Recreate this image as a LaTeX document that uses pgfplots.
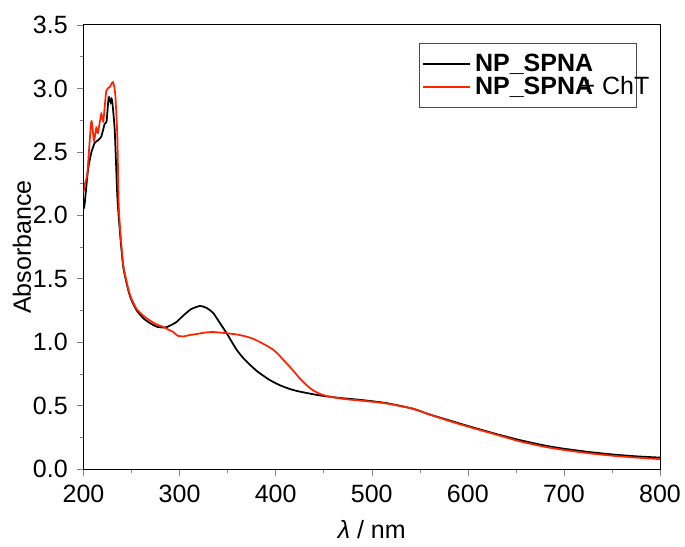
\documentclass[border=0pt]{standalone}
\usepackage{fontspec}
\setmainfont{Liberation Sans}
\usepackage{pgfplots}
\pgfplotsset{compat=1.18}
\definecolor{spred}{RGB}{255,35,0}
\begin{document}
\begin{tikzpicture}
\begin{axis}[
  scale only axis,
  width=230.6pt, height=177.6pt,
  xmin=200, xmax=800, ymin=0, ymax=3.5,
  xtick={200,300,...,800},
  ytick={0,0.5,...,3.5},
  minor x tick num=1, minor y tick num=1,
  tick align=outside,
  xtick pos=left, ytick pos=left,
  major tick length=2.8pt, minor tick length=1.6pt,
  /pgf/number format/assume math mode=true,
  /pgf/number format/.cd, fixed, fixed zerofill, precision=1, /pgfplots/.cd,
  xticklabel style={/pgf/number format/precision=0,/pgf/number format/fixed zerofill=false},
  x label style={at={(axis description cs:0.5,-0.137)},anchor=center},
  y label style={at={(axis description cs:-0.107,0.5)},anchor=center},
  xlabel={\textit{λ} / nm},
  ylabel={Absorbance},
  legend style={at={(axis description cs:0.582,0.959)}, anchor=north west,
    draw=black!70, inner xsep=1pt, inner ysep=2.5pt, row sep=-2.6pt, font=\fontsize{10}{11}\selectfont,
    nodes={inner sep=1.5pt}},
  legend cell align=left,
  legend image code/.code={\draw[#1] (0pt,0pt) -- (19pt,0pt);},
]
\addplot[black, line width=0.7pt, smooth, tension=0.35] coordinates {
(200,2.05) (201.2,2.09) (204.7,2.36) (208,2.49) (211.6,2.57) (215,2.59)
(218.5,2.62) (222,2.72) (224,2.74) (226.2,2.93) (228.3,2.89) (229.7,2.91)
(232.5,2.67) (235.2,2.15) (238,1.86) (241.4,1.59) (246.6,1.41) (250,1.33)
(255.4,1.25) (262,1.19) (269.2,1.15) (277,1.12) (284.8,1.115) (290,1.13)
(297,1.16) (303.9,1.21) (312,1.26) (321,1.285) (328,1.27) (335,1.23)
(342,1.15) (349,1.07) (359.4,0.94) (368,0.86) (380,0.775) (393,0.705)
(404.5,0.66) (415,0.63) (425,0.61) (446,0.58) (467,0.56) (488,0.545) (515,0.52)
(543,0.475) (560,0.43) (580,0.385) (602,0.335) (630,0.275) (654,0.228)
(680,0.185) (700,0.16) (725,0.135) (750,0.115) (775,0.10) (800,0.09)
};
\addlegendentry{\textbf{NP\_SPNA}}
\addplot[spred, line width=0.7pt, smooth, tension=0.35] coordinates {
(200,2.18) (201.2,2.24) (204,2.33) (208.1,2.74) (210.9,2.59) (213.3,2.69)
(215,2.65) (218.5,2.80) (220.6,2.74) (223.7,2.98) (227.3,3.01) (230.7,3.05)
(233,2.96) (235.2,2.62) (236.6,2.09) (238.5,1.85) (241.5,1.60) (246.6,1.42)
(250,1.34) (255.4,1.26) (262,1.21) (269.2,1.17) (276,1.14) (283,1.12)
(288,1.10) (293.4,1.08) (298,1.05) (303.9,1.045) (310,1.055) (317.8,1.064)
(326,1.075) (335,1.08) (349,1.07) (360,1.06) (369.8,1.043) (377,1.025)
(383.7,1.00) (390,0.975) (397.5,0.94) (402,0.91) (408,0.86) (413,0.82) (418.3,0.775)
(425,0.715) (432.3,0.66) (439,0.62) (446,0.593) (453,0.575) (460,0.565)
(473,0.55) (487.7,0.54) (515,0.517) (543,0.475) (560,0.43) (580,0.38)
(602,0.33) (630,0.27) (654,0.218) (680,0.175) (700,0.15) (725,0.125)
(750,0.105) (775,0.09) (800,0.078)
};
\addlegendentry{\textbf{NP\_SPNA}\hspace{-5pt}\makebox[20pt][l]{+ ChT}}
\end{axis}
\pgfresetboundingbox
\path ([shift={(-33.4pt,-30.8pt)}]current axis.south west) rectangle ([shift={(10pt,10pt)}]current axis.north east);
\end{tikzpicture}
\end{document}
